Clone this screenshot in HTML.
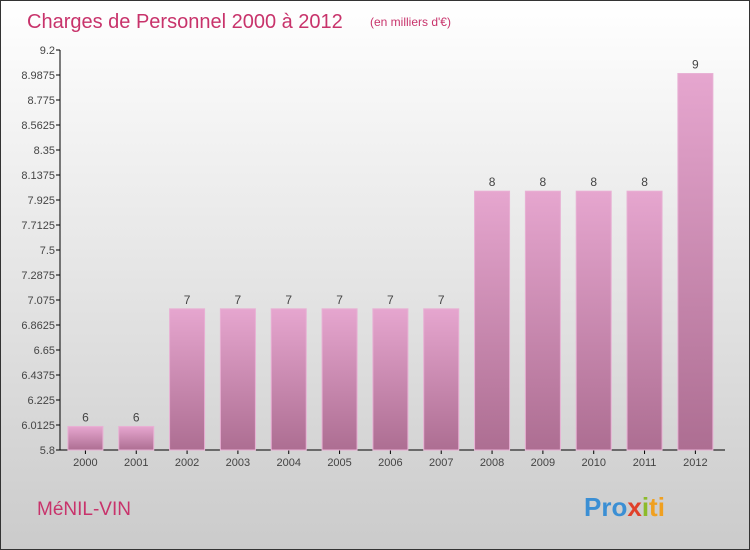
<!DOCTYPE html>
<html><head><meta charset="utf-8"><style>
body{margin:0}
#w{position:relative;width:748px;height:548px;border:1px solid #333;background:linear-gradient(#ffffff,#cbcbcb);font-family:"Liberation Sans",sans-serif;overflow:hidden}
</style></head><body>
<div id="w">
<svg width="748" height="548" style="position:absolute;left:0;top:0">
<defs><linearGradient id="bg" x1="0" y1="0" x2="0" y2="1"><stop offset="0" stop-color="#e6a6cf"/><stop offset="1" stop-color="#ad6e92"/></linearGradient></defs>
<text x="26" y="27" font-size="20" fill="#c8336b">Charges de Personnel 2000 à 2012</text>
<text x="369" y="25" font-size="12" fill="#c8336b">(en milliers d'€)</text>
<g id="axes"></g><g id="bars"></g>
<text x="36" y="514" font-size="19" fill="#c8336b">MéNIL-VIN</text>
<text x="583" y="515" font-size="26" font-weight="bold"><tspan fill="#3b8fd4">Pro</tspan><tspan fill="#e0402a">x</tspan><tspan fill="#8cbb2a">i</tspan><tspan fill="#f0a020">ti</tspan></text>
</svg></div>
<script>
const categories=["2000","2001","2002","2003","2004","2005","2006","2007","2008","2009","2010","2011","2012"];
const values=[6,6,7,7,7,7,7,7,8,8,8,8,9];
const ticks=["9.2","8.9875","8.775","8.5625","8.35","8.1375","7.925","7.7125","7.5","7.2875","7.075","6.8625","6.65","6.4375","6.225","6.0125","5.8"];
const yMin=5.8,yMax=9.2,top0=49,bot=449,left=59,band=50.83,bw=35;
const ns="http://www.w3.org/2000/svg";
function y(v){return bot-(v-yMin)/(yMax-yMin)*(bot-top0);}
function mk(t,a,p){const e=document.createElementNS(ns,t);for(const k in a)e.setAttribute(k,a[k]);p.appendChild(e);return e;}
const ax=document.getElementById('axes'),bg=document.getElementById('bars');
let l=mk('line',{x1:left,y1:top0,x2:left,y2:bot,stroke:'#000'},ax);


l=mk('line',{x1:left,y1:bot,x2:724,y2:bot,stroke:'#000'},ax);


ticks.forEach(t=>{const yy=y(parseFloat(t));
 mk('line',{x1:left-4,y1:yy,x2:left,y2:yy,stroke:'#000'},ax);
 const tx=mk('text',{x:left-5,y:yy+4,'text-anchor':'end','font-size':11,fill:'#444'},ax);tx.textContent=t;
 
 });
categories.forEach((c,i)=>{const cx=left+band*(i+0.5);const yy=y(values[i]);
 mk('line',{x1:cx,y1:bot,x2:cx,y2:bot+4,stroke:'#000'},ax);
 const r=mk('rect',{x:cx-bw/2,y:yy,width:bw,height:bot-yy,fill:'url(#bg)',stroke:'#e8b0d4','stroke-width':1},bg);
 
 
 const v=mk('text',{x:cx,y:yy-5,'text-anchor':'middle','font-size':12,fill:'#444'},bg);v.textContent=values[i];
 
 
 const xl=mk('text',{x:cx,y:bot+16,'text-anchor':'middle','font-size':11,fill:'#444'},ax);xl.textContent=c;
 
 });
</script>
</body></html>
